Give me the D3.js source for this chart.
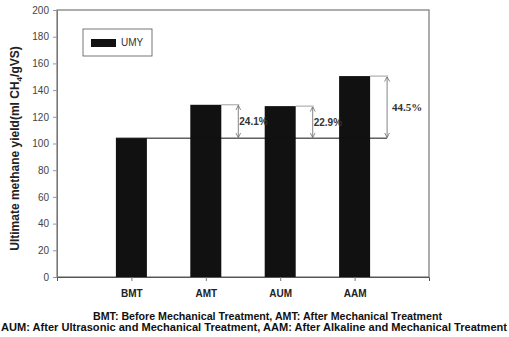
<!DOCTYPE html>
<html lang="en">
<head>
  <meta charset="UTF-8">
  <title>Ultimate methane yield</title>
  <script src="https://d3js.org/d3.v7.min.js"></script>
  <style>
    body { margin: 0; background: #fff; }
    text { font-family: 'Liberation Sans', Arial, sans-serif; }
  </style>
</head>
<body>
  <div id="chart"></div>
  <script>
    // Data
    const categories = ["BMT", "AMT", "AUM", "AAM"];
    const values = [104, 129, 128, 150.5];
    const increases = ["", "24.1%", "22.9%", "44.5%"];
    const yTicks = [0, 20, 40, 60, 80, 100, 120, 140, 160, 180, 200];
    const captions = [
      "BMT: Before Mechanical Treatment, AMT: After Mechanical Treatment",
      "AUM: After Ultrasonic and Mechanical Treatment, AAM: After Alkaline and Mechanical Treatment"
    ];

    var width = 509, height = 337;
    var plotL = 57, plotR = 429, plotT = 10, plotB = 277;

    var svg = d3.select("#chart").append("svg")
      .attr("width", width)
      .attr("height", height);

    var x = d3.scalePoint()
      .domain(categories)
      .range([plotL, plotR])
      .padding(1);

    var y = d3.scaleLinear()
      .domain([0, 200])
      .range([plotB, plotT]);

    var barW = 31;

    // frame
    svg.append("rect")
      .attr("x", plotL).attr("y", plotT)
      .attr("width", plotR - plotL).attr("height", plotB - plotT)
      .attr("fill", "none").attr("stroke", "#777").attr("stroke-width", 1.2);

    // y axis
    var yAxis = svg.append("g")
      .attr("transform", "translate(" + plotL + ",0)")
      .call(d3.axisLeft(y).tickValues(yTicks).tickSize(4).tickPadding(4));
    yAxis.select(".domain").attr("stroke", "#777");
    yAxis.selectAll(".tick line").attr("stroke", "#999");
    yAxis.selectAll("text").attr("fill", "#444").style("font-size", "10px")
      .style("font-family", "'Liberation Sans', Arial, sans-serif");

    // x axis
    var xAxis = svg.append("g")
      .attr("transform", "translate(0," + plotB + ")")
      .call(d3.axisBottom(x).tickSize(4).tickPadding(9));
    xAxis.select(".domain").attr("stroke", "#555");
    xAxis.selectAll(".tick line").attr("stroke", "#777");
    xAxis.selectAll("text").attr("fill", "#222").style("font-size", "10px")
      .style("font-weight", "bold")
      .style("font-family", "'Liberation Sans', Arial, sans-serif");

    // bars
    svg.append("g").selectAll("rect")
      .data(categories)
      .enter().append("rect")
      .attr("x", function (d) { return x(d) - barW / 2; })
      .attr("y", function (d, i) { return y(values[i]); })
      .attr("width", barW)
      .attr("height", function (d, i) { return y(0) - y(values[i]); })
      .attr("fill", "#111");

    // arrow markers
    var defs = svg.append("defs");
    defs.append("marker")
      .attr("id", "head")
      .attr("viewBox", "0 0 10 10")
      .attr("refX", 9).attr("refY", 5)
      .attr("markerWidth", 5).attr("markerHeight", 7)
      .attr("markerUnits", "userSpaceOnUse")
      .attr("orient", "auto-start-reverse")
      .append("path")
      .attr("d", "M0,0 L10,5 L0,10")
      .attr("fill", "none").attr("stroke", "#666").attr("stroke-width", 1.5);

    var base = y(values[0]);
    var arrowOff = barW / 2 + 17;
    var lastArrow = x(categories[categories.length - 1]) + arrowOff;

    // baseline
    svg.append("line")
      .attr("x1", x(categories[0]) - barW / 2).attr("x2", lastArrow)
      .attr("y1", base).attr("y2", base)
      .attr("stroke", "#111").attr("stroke-width", 1);

    var ann = svg.append("g");
    categories.forEach(function (c, i) {
      if (i === 0) return;
      var ax = x(c) + arrowOff;
      var ty = y(values[i]);
      ann.append("line")
        .attr("x1", x(c) + barW / 2).attr("x2", ax + 1)
        .attr("y1", ty).attr("y2", ty)
        .attr("stroke", "#888").attr("stroke-width", 0.8);
      ann.append("line")
        .attr("x1", ax).attr("x2", ax)
        .attr("y1", ty + 1).attr("y2", base - 1)
        .attr("stroke", "#666").attr("stroke-width", 0.8)
        .attr("marker-start", "url(#head)")
        .attr("marker-end", "url(#head)");
      ann.append("text")
        .attr("x", i === 3 ? ax + 5 : ax + 1)
        .attr("y", (ty + base) / 2 + 4)
        .attr("fill", "#333")
        .style("font-size", i === 3 ? "11px" : "10px")
        .style("font-weight", "bold")
        .style("font-family", i === 3 ? "'Liberation Serif', serif" : "'Liberation Sans', Arial, sans-serif")
        .text(increases[i]);
    });

    // legend
    var lg = svg.append("g");
    lg.append("rect")
      .attr("x", 83).attr("y", 29).attr("width", 69).attr("height", 27)
      .attr("fill", "#fff").attr("stroke", "#555").attr("stroke-width", 0.8);
    lg.append("rect")
      .attr("x", 91).attr("y", 39).attr("width", 25).attr("height", 8)
      .attr("fill", "#111");
    lg.append("text")
      .attr("x", 121).attr("y", 46)
      .attr("fill", "#333").style("font-size", "10px")
      .text("UMY");

    // y title
    var yt = svg.append("text")
      .attr("transform", "translate(19," + ((plotT + plotB) / 2 + 5) + ") rotate(-90)")
      .attr("text-anchor", "middle")
      .attr("fill", "#222")
      .style("font-size", "12px")
      .style("font-weight", "bold");
    yt.append("tspan").text("Ultimate methane yield(ml CH");
    yt.append("tspan").attr("dy", 3).style("font-size", "8px").text("4");
    yt.append("tspan").attr("dy", -3).text("/gVS)");

    // captions
    var capX = [93, 1], capW = [349, 506];
    svg.append("g").selectAll("text")
      .data(captions)
      .enter().append("text")
      .attr("x", function (d, i) { return capX[i]; })
      .attr("y", function (d, i) { return 320 + i * 11; })
      .attr("textLength", function (d, i) { return capW[i]; })
      .attr("lengthAdjust", "spacingAndGlyphs")
      .attr("fill", "#111")
      .style("font-size", "10px")
      .style("font-weight", "bold")
      .text(function (d) { return d; });
  </script>
</body>
</html>
